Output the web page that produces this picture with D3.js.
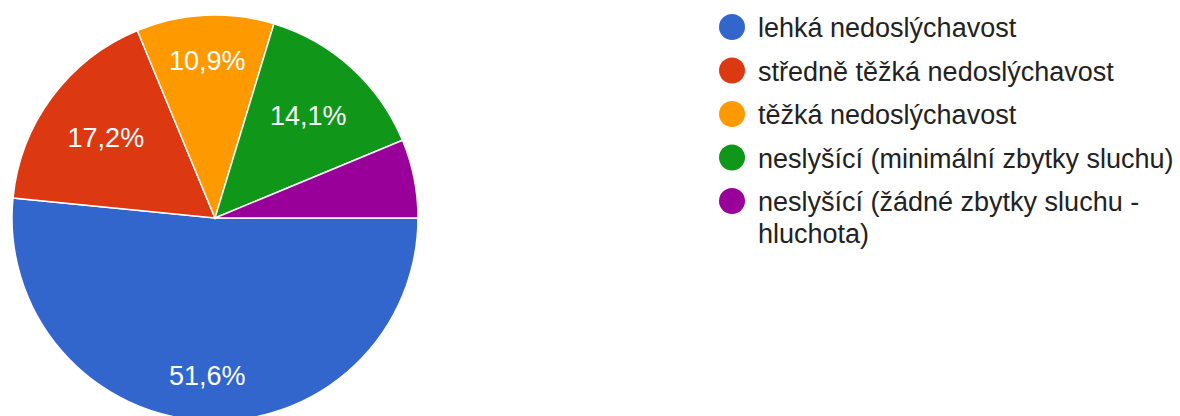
<!DOCTYPE html>
<html>
<head>
<meta charset="utf-8">
<script src="https://cdnjs.cloudflare.com/ajax/libs/d3/7.8.5/d3.min.js"></script>
<style>
body{margin:0;background:#fff;}
text{font-family:"Liberation Sans",Arial,sans-serif;}
</style>
</head>
<body>
<svg class="chart"></svg>
<script>
var categories=["lehká nedoslýchavost","středně těžká nedoslýchavost","těžká nedoslýchavost","neslyšící (minimální zbytky sluchu)","neslyšící (žádné zbytky sluchu - hluchota)"];
var counts=[33,11,7,9,4];
var colorList=["#3366cc","#dc3912","#ff9900","#109618","#990099"];

var screen={width:1180,height:416};
var svg=d3.select("svg.chart")
          .attr("width",screen.width)
          .attr("height",screen.height);

var cx=215,cy=218,radius=203;
var total=d3.sum(counts);
var data=categories.map(function(c,i){return {name:c,value:counts[i],color:colorList[i]};});

var pie=d3.pie()
          .sort(null)
          .value(function(d){return d.value;})
          .startAngle(Math.PI/2)
          .endAngle(Math.PI/2+2*Math.PI);
var arc=d3.arc().innerRadius(0).outerRadius(radius);

var plot=svg.append("g")
            .attr("transform","translate("+cx+","+cy+")");
var slices=pie(data);
plot.selectAll("path")
    .data(slices)
    .enter()
    .append("path")
    .attr("d",arc)
    .attr("fill",function(d){return d.data.color;})
    .attr("stroke","#fff")
    .attr("stroke-width",1.5);

var fmt=function(v){return d3.format(".1f")(v*100/total).replace(".",",")+"%";};
var labelR=radius*0.852,capH=19;
plot.selectAll("text.pct")
    .data(slices.filter(function(d){return d.value/total>0.08;}))
    .enter()
    .append("text")
    .classed("pct",true)
    .attr("fill","#fff")
    .attr("font-size",27)
    .attr("text-anchor","middle")
    .text(function(d){return fmt(d.value);})
    .each(function(d){
      var w=this.getComputedTextLength();
      var a=(d.startAngle+d.endAngle)/2;
      var ux=Math.sin(a),uy=-Math.cos(a);
      var ox=(ux<0?-1:1)*w/2,oy=(uy<0?-1:1)*capH/2;
      // t*u + o must lie at labelR
      var b=ux*ox+uy*oy,c=ox*ox+oy*oy-labelR*labelR;
      var t=-b+Math.sqrt(b*b-c);
      d3.select(this)
        .attr("x",t*ux)
        .attr("y",t*uy+capH/2);
    });

var legend=svg.append("g")
              .attr("transform","translate(732,0)");
var line=legend.selectAll("g")
               .data(data)
               .enter()
               .append("g")
               .attr("transform",function(d,i){return "translate(0,"+(27+i*43.5)+")";});
line.append("circle")
    .attr("r",13)
    .attr("fill",function(d){return d.color;});
line.append("text")
    .attr("x",26)
    .attr("y",10)
    .attr("font-size",27)
    .attr("fill","#222")
    .each(function(d){
      var el=d3.select(this);
      var words=d.name.split(" ");
      var ts=el.append("tspan").attr("x",26).attr("dy",0);
      var cur=[];
      words.forEach(function(w){
        cur.push(w);
        ts.text(cur.join(" "));
        if(ts.node().getComputedTextLength()>420&&cur.length>1){
          cur.pop();
          ts.text(cur.join(" "));
          cur=[w];
          ts=el.append("tspan").attr("x",26).attr("dy",32).text(w);
        }
      });
    });
</script>
</body>
</html>
